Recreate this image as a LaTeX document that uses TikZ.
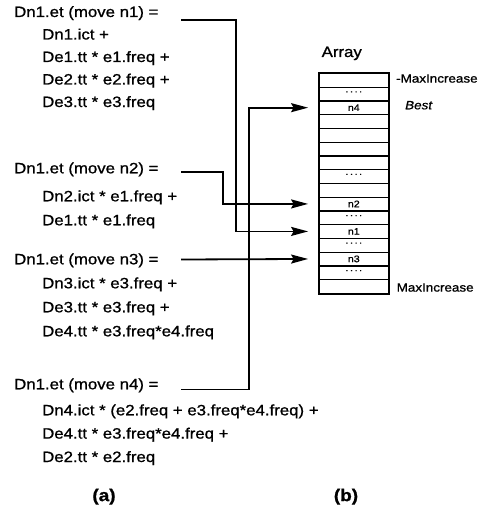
\documentclass[tikz,border=0pt]{standalone}
\usepackage{fontspec}
\setmainfont{Liberation Sans}[FakeStretch=1.12, FakeBold=1.0]
\usetikzlibrary{arrows.meta}

\begin{document}
\begin{tikzpicture}[x=1pt,y=-1pt,
  eq/.style={anchor=base west, inner sep=0pt, font=\fontsize{15}{17}\selectfont},
  lab/.style={anchor=base west, inner sep=0pt, font=\fontsize{12}{14}\selectfont},
  panelcap/.style={inner sep=0pt, font=\fontsize{17}{19}\selectfont\bfseries},
  cell/.style={minimum width=69pt, minimum height=13.75pt, inner sep=0pt},
  sep/.style={line width=1.3pt},
  celltag/.style={inner sep=0pt, font=\fontsize{9.5}{11}\selectfont},
  celldots/.style={anchor=base, inner sep=0pt, font=\fontsize{9.5}{11}\selectfont},
  link/.style={line width=1.8pt, -{Stealth[length=17pt,width=9pt,inset=2.5pt]}, shorten >=11pt},
]
\useasboundingbox (0,0) rectangle (483,524);

% equations for the four moves
\node[eq] (h1) at (14,17) {Dn1.et (move n1) =};
\node[eq] (a1) at (42,39.5) {Dn1.ict +};
\node[eq] (a2) at (42,62) {De1.tt * e1.freq +};
\node[eq] (a3) at (42,84.5) {De2.tt * e2.freq +};
\node[eq] (a4) at (42,107) {De3.tt * e3.freq};

\node[eq] (h2) at (14,173.3) {Dn1.et (move n2) =};
\node[eq] (b1) at (42,201.3) {Dn2.ict * e1.freq +};
\node[eq] (b2) at (42,225.3) {De1.tt * e1.freq};

\node[eq] (h3) at (14,264.3) {Dn1.et (move n3) =};
\node[eq] (d1) at (42,288.3) {Dn3.ict * e3.freq +};
\node[eq] (d2) at (42,312.3) {De3.tt * e3.freq +};
\node[eq] (d3) at (42,336.3) {De4.tt * e3.freq*e4.freq};

\node[eq] (h4) at (14,389.3) {Dn1.et (move n4) =};
\node[eq] (f1) at (42,415.3) {Dn4.ict * (e2.freq + e3.freq*e4.freq) +};
\node[eq] (f2) at (42,438.6) {De4.tt * e3.freq*e4.freq +};
\node[eq] (f3) at (42,462) {De2.tt * e2.freq};

% the array of cells
\node[anchor=base west, inner sep=0pt, font=\fontsize{15}{17}\selectfont] (title) at (321.5,57) {Array};
\foreach \i in {1,...,16}
  \node[cell] (c\i) at (353.8,{73.3+13.75*(\i-0.5)}) {};
\foreach \i in {1,...,15}
  \draw[sep] (c\i.south west) -- (c\i.south east);
\draw[line width=2pt] (c1.north west) rectangle (c16.south east);

\node[celltag] (t4) at (c3) {n4};
\node[celltag] (t2) at (c10) {n2};
\node[celltag] (t1) at (c12) {n1};
\node[celltag] (t3) at (c14) {n3};
\foreach \i in {2,8,11,13,15}
  \node[celldots] (p\i) at ([yshift=1.5pt]c\i.center) {.\kern1.6pt.\kern1.6pt.\kern1.6pt.};

\node[lab] (top) at (396,82.6) {-MaxIncrease};
\node[lab, font=\fontsize{12}{14}\selectfont\itshape] (best) at (405,109.3) {Best};
\node[lab] (bot) at (396.5,291.6) {MaxIncrease};

% connectors from the equations to the array
\coordinate (s1) at (181,20);
\coordinate (s2) at (181,171.7);
\coordinate (s3) at (181,259.5);
\coordinate (s4) at (181,389.5);
\coordinate (k1) at (236,0);
\coordinate (k2) at (223.3,0);
\coordinate (k4) at (249.3,0);

\draw[link] (s1) -| (k1 |- c12) -- (c12.west);
\draw[link] (s2) -| (k2 |- c10) -- (c10.west);
\draw[link] (s3) -- (c14.west);
\draw[link] (s4) -| (k4 |- c3) -- (c3.west);

% panel captions
\node[panelcap] (pa) at (104,496.7) {(a)};
\node[panelcap] (pb) at (346,496.7) {(b)};
\end{tikzpicture}
\end{document}
